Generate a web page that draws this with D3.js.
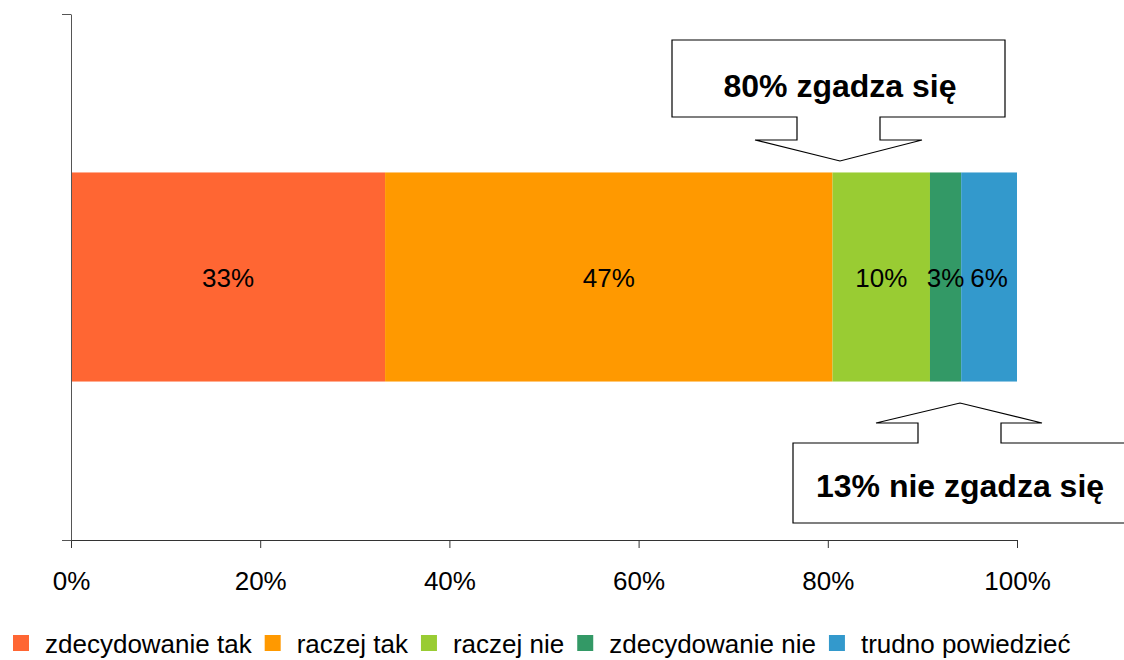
<!DOCTYPE html>
<html><head><meta charset="utf-8">
<script src="https://cdn.jsdelivr.net/npm/d3@7"></script>
<style>body{margin:0;background:#fff}svg{display:block;font-family:Arial,"Liberation Sans",sans-serif}</style>
</head><body><svg id="c" width="1124" height="660"></svg>
<script>
const categories = ["all"];
const seriesNames = ["zdecydowanie tak","raczej tak","raczej nie","zdecydowanie nie","trudno powiedzieć"];
const seriesValues = [33.2, 47.3, 10.3, 3.3, 5.9];
const seriesLabels = ["33%","47%","10%","3%","6%"];
const colors = ["#FF6633","#FF9900","#99CC33","#339966","#3399CC"];
const tickValues = [0,20,40,60,80,100];
const callouts = [{text:"80% zgadza się"},{text:"13% nie zgadza się"}];

const svg = d3.select("#c");
const x = d3.scaleLinear().domain([0,100]).range([71,1017]);
const y = d3.scaleBand().domain(categories).range([14,540]).paddingInner(0).paddingOuter(0.758);

// stacked
let acc = 0;
const segs = seriesValues.map((v,i)=>{const s={x0:acc,x1:acc+v,i}; acc+=v; return s;});
svg.append("g").selectAll("rect").data(segs).join("rect")
  .attr("x",d=>x(d.x0)).attr("width",d=>x(d.x1)-x(d.x0))
  .attr("y",y("all")).attr("height",y.bandwidth())
  .attr("fill",d=>colors[d.i]);
svg.append("g").selectAll("text").data(segs).join("text")
  .attr("x",d=>(x(d.x0)+x(d.x1))/2).attr("y",y("all")+y.bandwidth()/2+10)
  .attr("text-anchor","middle").attr("font-size",26).attr("fill","#000")
  .text(d=>seriesLabels[d.i]);

// axes
const xa = svg.append("g").attr("transform","translate(0,540)")
  .call(d3.axisBottom(x).tickValues(tickValues).tickFormat(d=>d+"%").tickSize(8).tickSizeOuter(0).tickPadding(24));
xa.select(".domain").attr("d","M62,0.5H1017").attr("stroke","#333");
xa.selectAll(".tick line").attr("stroke","#333");
xa.selectAll("text").attr("font-size",26).attr("fill","#000").attr("font-family","Arial,'Liberation Sans',sans-serif");

const yl = d3.scaleLinear().domain([0,1]).range([540,14]);
const ya = svg.append("g").attr("transform","translate(71,0)")
  .call(d3.axisLeft(yl).tickValues([0,1]).tickFormat("").tickSize(9).tickSizeOuter(0));
ya.select(".domain").attr("stroke","#555");
ya.selectAll(".tick line").attr("stroke","#555");

// callouts
const c1 = "M672,40H1005V117H880V140H922L840,161L755,140H797V117H672Z";
const c2 = "M793,443H918V423H876L960,403L1042,423H1001V443H1130V523H793Z";
svg.append("path").attr("d",c1).attr("fill","#fff").attr("stroke","#000").attr("stroke-width",1.2);
svg.append("path").attr("d",c2).attr("fill","#fff").attr("stroke","#000").attr("stroke-width",1.2);
svg.append("text").attr("x",840).attr("y",97).attr("text-anchor","middle").attr("font-size",32).attr("font-weight","bold").text(callouts[0].text);
svg.append("text").attr("x",960).attr("y",497).attr("text-anchor","middle").attr("font-size",32).attr("font-weight","bold").text(callouts[1].text);

// legend
const lg = svg.append("g");
let lx = 13;
seriesNames.forEach((n,i)=>{
  lg.append("rect").attr("x",lx).attr("y",635).attr("width",16).attr("height",16).attr("fill",colors[i]);
  const t = lg.append("text").attr("x",lx+32).attr("y",653).attr("font-size",26).attr("fill","#000").text(n);
  lx += 32 + t.node().getComputedTextLength() + 13;
});
</script></body></html>
